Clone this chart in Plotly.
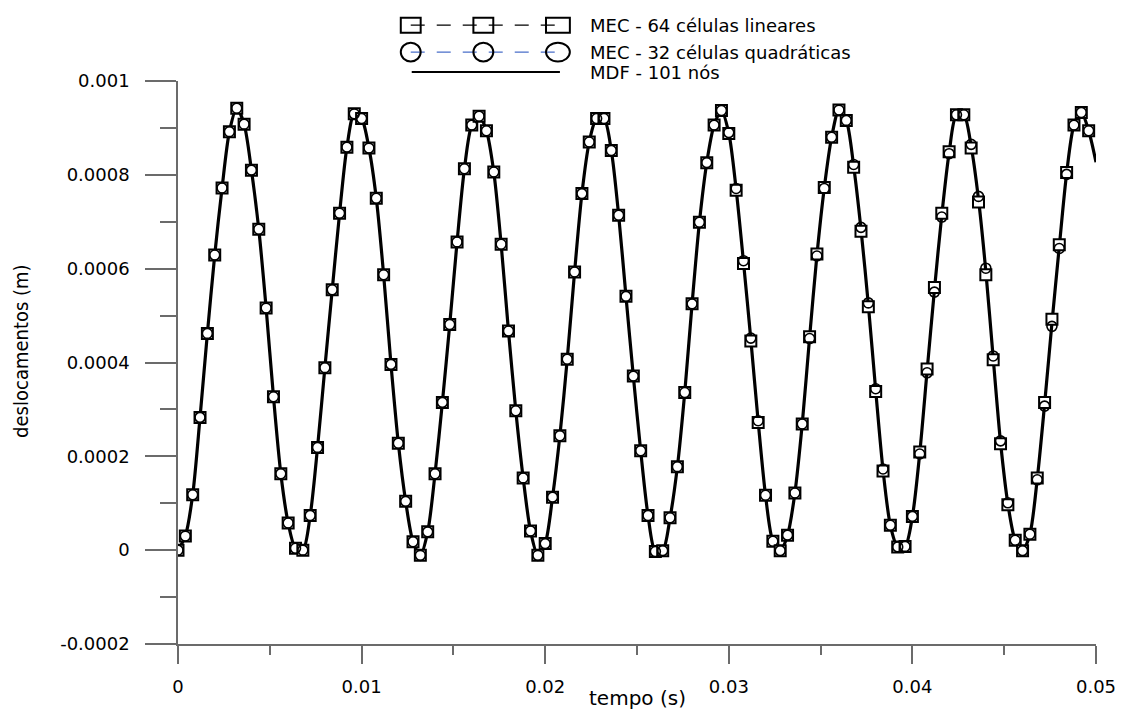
import plotly.graph_objects as go

# ---------------- data ----------------
tempo = [
    0.0000, 0.0004, 0.0008, 0.0012, 0.0016, 0.0020, 0.0024, 0.0028, 0.0032, 0.0036,
    0.0040, 0.0044, 0.0048, 0.0052, 0.0056, 0.0060, 0.0064, 0.0068, 0.0072, 0.0076,
    0.0080, 0.0084, 0.0088, 0.0092, 0.0096, 0.0100, 0.0104, 0.0108, 0.0112, 0.0116,
    0.0120, 0.0124, 0.0128, 0.0132, 0.0136, 0.0140, 0.0144, 0.0148, 0.0152, 0.0156,
    0.0160, 0.0164, 0.0168, 0.0172, 0.0176, 0.0180, 0.0184, 0.0188, 0.0192, 0.0196,
    0.0200, 0.0204, 0.0208, 0.0212, 0.0216, 0.0220, 0.0224, 0.0228, 0.0232, 0.0236,
    0.0240, 0.0244, 0.0248, 0.0252, 0.0256, 0.0260, 0.0264, 0.0268, 0.0272, 0.0276,
    0.0280, 0.0284, 0.0288, 0.0292, 0.0296, 0.0300, 0.0304, 0.0308, 0.0312, 0.0316,
    0.0320, 0.0324, 0.0328, 0.0332, 0.0336, 0.0340, 0.0344, 0.0348, 0.0352, 0.0356,
    0.0360, 0.0364, 0.0368, 0.0372, 0.0376, 0.0380, 0.0384, 0.0388, 0.0392, 0.0396,
    0.0400, 0.0404, 0.0408, 0.0412, 0.0416, 0.0420, 0.0424, 0.0428, 0.0432, 0.0436,
    0.0440, 0.0444, 0.0448, 0.0452, 0.0456, 0.0460, 0.0464, 0.0468, 0.0472, 0.0476,
    0.0480, 0.0484, 0.0488, 0.0492, 0.0496,
]

# MEC - 64 celulas lineares (squares), metres
mec64 = [
    0.00e-4, 0.30e-4, 1.18e-4, 2.83e-4, 4.62e-4, 6.29e-4, 7.72e-4, 8.92e-4, 9.42e-4, 9.08e-4,
    8.10e-4, 6.84e-4, 5.16e-4, 3.27e-4, 1.63e-4, 0.58e-4, 0.04e-4, 0.00e-4, 0.74e-4, 2.19e-4,
    3.89e-4, 5.55e-4, 7.18e-4, 8.59e-4, 9.30e-4, 9.20e-4, 8.57e-4, 7.50e-4, 5.87e-4, 3.96e-4,
    2.28e-4, 1.04e-4, 0.18e-4, -0.11e-4, 0.39e-4, 1.63e-4, 3.15e-4, 4.81e-4, 6.57e-4, 8.13e-4,
    9.06e-4, 9.25e-4, 8.94e-4, 8.06e-4, 6.52e-4, 4.67e-4, 2.97e-4, 1.54e-4, 0.41e-4, -0.11e-4,
    0.14e-4, 1.13e-4, 2.44e-4, 4.07e-4, 5.93e-4, 7.60e-4, 8.70e-4, 9.20e-4, 9.20e-4, 8.52e-4,
    7.14e-4, 5.41e-4, 3.71e-4, 2.12e-4, 0.74e-4, -0.03e-4, -0.01e-4, 0.69e-4, 1.78e-4, 3.36e-4,
    5.25e-4, 6.99e-4, 8.26e-4, 9.06e-4, 9.37e-4, 8.88e-4, 7.67e-4, 6.11e-4, 4.46e-4, 2.72e-4,
    1.17e-4, 0.19e-4, -0.01e-4, 0.32e-4, 1.22e-4, 2.69e-4, 4.55e-4, 6.31e-4, 7.73e-4, 8.80e-4,
    9.38e-4, 9.16e-4, 8.16e-4, 6.80e-4, 5.19e-4, 3.38e-4, 1.69e-4, 0.53e-4, 0.07e-4, 0.08e-4,
    0.72e-4, 2.09e-4, 3.86e-4, 5.60e-4, 7.18e-4, 8.49e-4, 9.28e-4, 9.28e-4, 8.57e-4, 7.42e-4,
    5.87e-4, 4.06e-4, 2.27e-4, 0.97e-4, 0.21e-4, -0.01e-4, 0.34e-4, 1.54e-4, 3.15e-4, 4.92e-4,
    6.51e-4, 8.05e-4, 9.06e-4, 9.33e-4, 8.94e-4,
]

# MEC - 32 celulas quadraticas (circles), metres
mec32 = [
    0.00e-4, 0.30e-4, 1.18e-4, 2.83e-4, 4.62e-4, 6.29e-4, 7.72e-4, 8.92e-4, 9.42e-4, 9.08e-4,
    8.10e-4, 6.84e-4, 5.16e-4, 3.27e-4, 1.63e-4, 0.58e-4, 0.04e-4, 0.00e-4, 0.74e-4, 2.19e-4,
    3.89e-4, 5.55e-4, 7.18e-4, 8.59e-4, 9.30e-4, 9.20e-4, 8.57e-4, 7.50e-4, 5.87e-4, 3.96e-4,
    2.28e-4, 1.04e-4, 0.18e-4, -0.11e-4, 0.39e-4, 1.63e-4, 3.15e-4, 4.81e-4, 6.57e-4, 8.13e-4,
    9.06e-4, 9.25e-4, 8.94e-4, 8.06e-4, 6.52e-4, 4.67e-4, 2.97e-4, 1.54e-4, 0.41e-4, -0.11e-4,
    0.14e-4, 1.13e-4, 2.44e-4, 4.07e-4, 5.93e-4, 7.60e-4, 8.70e-4, 9.20e-4, 9.20e-4, 8.52e-4,
    7.14e-4, 5.41e-4, 3.71e-4, 2.12e-4, 0.74e-4, -0.03e-4, -0.01e-4, 0.69e-4, 1.78e-4, 3.36e-4,
    5.25e-4, 6.99e-4, 8.26e-4, 9.06e-4, 9.37e-4, 8.90e-4, 7.71e-4, 6.17e-4, 4.52e-4, 2.76e-4,
    1.17e-4, 0.19e-4, -0.01e-4, 0.32e-4, 1.22e-4, 2.69e-4, 4.51e-4, 6.27e-4, 7.71e-4, 8.80e-4,
    9.38e-4, 9.16e-4, 8.22e-4, 6.88e-4, 5.27e-4, 3.44e-4, 1.73e-4, 0.53e-4, 0.07e-4, 0.08e-4,
    0.72e-4, 2.05e-4, 3.78e-4, 5.50e-4, 7.10e-4, 8.45e-4, 9.28e-4, 9.28e-4, 8.65e-4, 7.54e-4,
    6.01e-4, 4.14e-4, 2.33e-4, 1.01e-4, 0.21e-4, -0.01e-4, 0.34e-4, 1.50e-4, 3.07e-4, 4.77e-4,
    6.43e-4, 8.01e-4, 9.06e-4, 9.33e-4, 8.94e-4,
]

# MDF - 101 nos (solid curve), metres
tempo_mdf = tempo + [0.0500]
mdf = [
    0.00e-4, 0.30e-4, 1.18e-4, 2.83e-4, 4.62e-4, 6.29e-4, 7.72e-4, 8.92e-4, 9.42e-4, 9.08e-4,
    8.10e-4, 6.84e-4, 5.16e-4, 3.27e-4, 1.63e-4, 0.58e-4, 0.04e-4, 0.00e-4, 0.74e-4, 2.19e-4,
    3.89e-4, 5.55e-4, 7.18e-4, 8.59e-4, 9.30e-4, 9.20e-4, 8.57e-4, 7.50e-4, 5.87e-4, 3.96e-4,
    2.28e-4, 1.04e-4, 0.18e-4, -0.11e-4, 0.39e-4, 1.63e-4, 3.15e-4, 4.81e-4, 6.57e-4, 8.13e-4,
    9.06e-4, 9.25e-4, 8.94e-4, 8.06e-4, 6.52e-4, 4.67e-4, 2.97e-4, 1.54e-4, 0.41e-4, -0.11e-4,
    0.14e-4, 1.13e-4, 2.44e-4, 4.07e-4, 5.93e-4, 7.60e-4, 8.70e-4, 9.20e-4, 9.20e-4, 8.52e-4,
    7.14e-4, 5.41e-4, 3.71e-4, 2.12e-4, 0.74e-4, -0.03e-4, -0.01e-4, 0.69e-4, 1.78e-4, 3.36e-4,
    5.25e-4, 6.99e-4, 8.26e-4, 9.06e-4, 9.37e-4, 8.89e-4, 7.69e-4, 6.14e-4, 4.49e-4, 2.74e-4,
    1.17e-4, 0.19e-4, -0.01e-4, 0.32e-4, 1.22e-4, 2.69e-4, 4.53e-4, 6.29e-4, 7.72e-4, 8.80e-4,
    9.38e-4, 9.16e-4, 8.19e-4, 6.84e-4, 5.23e-4, 3.41e-4, 1.71e-4, 0.53e-4, 0.07e-4, 0.08e-4,
    0.72e-4, 2.07e-4, 3.82e-4, 5.55e-4, 7.14e-4, 8.47e-4, 9.28e-4, 9.28e-4, 8.61e-4, 7.48e-4,
    5.94e-4, 4.10e-4, 2.30e-4, 0.99e-4, 0.21e-4, -0.01e-4, 0.34e-4, 1.52e-4, 3.11e-4, 4.84e-4,
    6.47e-4, 8.03e-4, 9.06e-4, 9.33e-4, 8.94e-4, 8.27e-4,
]

x_ticks = [0, 0.01, 0.02, 0.03, 0.04, 0.05]
x_ticktext = ["0", "0.01", "0.02", "0.03", "0.04", "0.05"]
x_minor = [0.005, 0.015, 0.025, 0.035, 0.045]
y_ticks = [-0.0002, 0, 0.0002, 0.0004, 0.0006, 0.0008, 0.001]
y_ticktext = ["-0.0002", "0", "0.0002", "0.0004", "0.0006", "0.0008", "0.001"]
y_minor = [-0.0001, 0.0001, 0.0003, 0.0005, 0.0007, 0.0009]

legend_labels = ["MEC - 64 células lineares", "MEC - 32 células quadráticas", "MDF - 101 nós"]

# ---------------- figure ----------------
W, H = 1128, 709
L, R, T, B = 178, 27, 81, 63
PW, PH = W - L - R, H - T - B
AX = "#6b6b6b"
FONT = "DejaVu Sans"
NARROW = "Liberation Sans Narrow, DejaVu Sans Condensed, Liberation Sans"


def xp(px):
    return (px - L) / PW


def yp(py):
    return (H - B - py) / PH


fig = go.Figure()
fig.add_trace(go.Scatter(
    x=tempo_mdf, y=mdf, mode="lines", name=legend_labels[2],
    line=dict(color="black", width=3.2, shape="spline", smoothing=0.8),
    showlegend=False,
))
fig.add_trace(go.Scatter(
    x=tempo, y=mec64, mode="markers", name=legend_labels[0],
    marker=dict(symbol="square", size=11, color="white",
                line=dict(color="black", width=2)),
    showlegend=False,
))
fig.add_trace(go.Scatter(
    x=tempo, y=mec32, mode="markers", name=legend_labels[1],
    marker=dict(symbol="circle", size=10, color="rgba(0,0,0,0)",
                line=dict(color="black", width=1.6)),
    showlegend=False,
))

axis_common = dict(
    showline=True, linecolor=AX, linewidth=1.5, showgrid=False, zeroline=False,
    ticks="outside", tickcolor=AX, tickwidth=1.5, mirror=False,
    tickfont=dict(family=FONT, size=18, color="black"),
)
fig.update_xaxes(
    range=[0, 0.05], tickmode="array", tickvals=x_ticks, ticktext=x_ticktext,
    ticklen=18, ticklabelstandoff=8,
    minor=dict(tickmode="array", tickvals=x_minor, ticklen=9, ticks="outside",
               tickcolor=AX, tickwidth=1.5),
    **axis_common,
)
fig.update_yaxes(
    range=[-0.0002, 0.001], tickmode="array", tickvals=y_ticks, ticktext=y_ticktext,
    ticklen=31, ticklabelstandoff=12,
    minor=dict(tickmode="array", tickvals=y_minor, ticklen=16, ticks="outside",
               tickcolor=AX, tickwidth=1.5),
    **axis_common,
)

shapes = []
annotations = []

# axis titles
annotations.append(dict(text="tempo (s)", xref="paper", yref="paper", x=0.5, y=yp(700),
                        xanchor="center", yanchor="middle", showarrow=False,
                        font=dict(family=FONT, size=20, color="black")))
annotations.append(dict(text="deslocamentos (m)", xref="paper", yref="paper", x=xp(20), y=yp(352),
                        xanchor="center", yanchor="middle", showarrow=False, textangle=-90,
                        font=dict(family=NARROW, size=20, color="black")))

# custom legend (three symbols joined by a dashed line)
sym_x = [412, 485, 560]
row_y = [25, 52, 72]
# row 1: squares with black dashed line
shapes.append(dict(type="line", xref="paper", yref="paper", x0=xp(412), x1=xp(560),
                   y0=yp(row_y[0]), y1=yp(row_y[0]),
                   line=dict(color="black", width=1.3, dash="14px,12px")))
for i, cx in enumerate(sym_x):
    hw = 12 if i == 2 else 10
    shapes.append(dict(type="rect", xref="paper", yref="paper",
                       x0=xp(cx - hw), x1=xp(cx + hw), y0=yp(row_y[0] - 7.5), y1=yp(row_y[0] + 7.5),
                       line=dict(color="black", width=2), fillcolor="rgba(0,0,0,0)"))
# row 2: circles with blue dashed line
shapes.append(dict(type="line", xref="paper", yref="paper", x0=xp(412), x1=xp(560),
                   y0=yp(row_y[1]), y1=yp(row_y[1]),
                   line=dict(color="#4a6fc9", width=1.2, dash="14px,12px")))
for i, cx in enumerate(sym_x):
    hw = 12 if i == 2 else 10
    shapes.append(dict(type="circle", xref="paper", yref="paper",
                       x0=xp(cx - hw), x1=xp(cx + hw), y0=yp(row_y[1] - 9.5), y1=yp(row_y[1] + 9.5),
                       line=dict(color="black", width=2), fillcolor="rgba(0,0,0,0)"))
# row 3: solid line
shapes.append(dict(type="line", xref="paper", yref="paper", x0=xp(413), x1=xp(562),
                   y0=yp(row_y[2]), y1=yp(row_y[2]),
                   line=dict(color="black", width=2)))
for i, lab in enumerate(legend_labels):
    annotations.append(dict(text=lab, xref="paper", yref="paper", x=xp(590), y=yp(row_y[i]),
                            xanchor="left", yanchor="middle", showarrow=False,
                            font=dict(family=FONT, size=18, color="black")))

fig.update_layout(
    width=W, height=H, autosize=False,
    margin=dict(l=L, r=R, t=T, b=B, pad=0),
    paper_bgcolor="white", plot_bgcolor="white",
    showlegend=False,
    shapes=shapes, annotations=annotations,
)

fig.write_html("out.html")
